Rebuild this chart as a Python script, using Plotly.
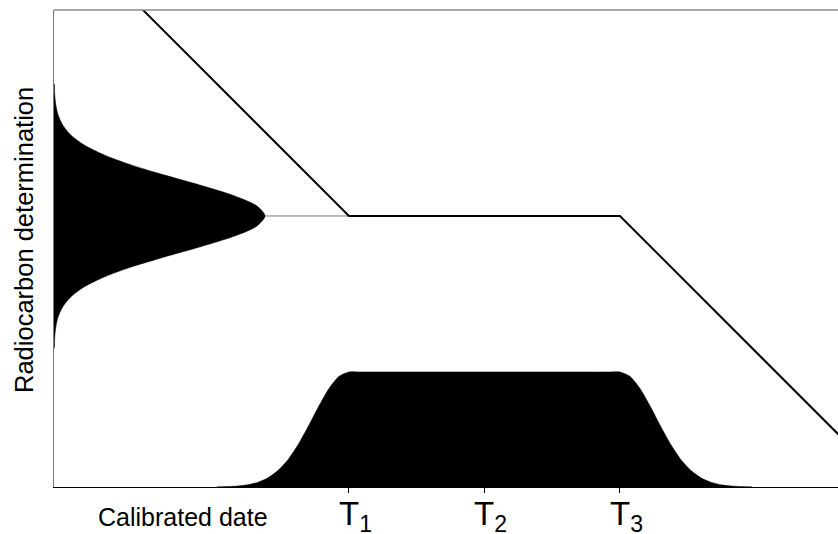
import plotly.graph_objects as go

# ---- data (arbitrary units, T1=1, T2=2, T3=3) ----
# radiocarbon determination (normal distribution drawn on the y-axis)
rc_values = [1.025, 1.1, 1.175, 1.25, 1.325, 1.4, 1.475, 1.55, 1.625, 1.7, 1.775, 1.85, 1.925,
             2.0, 2.075, 2.15, 2.225, 2.3, 2.375, 2.45, 2.525, 2.6, 2.675, 2.75, 2.825, 2.9, 2.975]
rc_density = [0.002, 0.005, 0.013, 0.029, 0.062, 0.122, 0.221, 0.371, 0.575, 0.823, 1.088, 1.328, 1.496,
              1.557, 1.496, 1.328, 1.088, 0.823, 0.575, 0.371, 0.221, 0.122, 0.062, 0.029, 0.013, 0.005, 0.002]

# calibrated date distribution (drawn on the x-axis)
cal_dates = [0.025, 0.1, 0.175, 0.25, 0.325, 0.4, 0.475, 0.55, 0.625, 0.7, 0.775, 0.85, 0.925,
             1.0, 1.075, 1.15, 1.5, 2.0, 2.5, 2.85, 2.925, 3.0,
             3.075, 3.15, 3.225, 3.3, 3.375, 3.45, 3.525, 3.6, 3.675, 3.75, 3.825, 3.9, 3.975]
cal_density = [0.001, 0.003, 0.007, 0.016, 0.034, 0.066, 0.121, 0.202, 0.314, 0.449, 0.593, 0.724, 0.816,
               0.849, 0.849, 0.849, 0.849, 0.849, 0.849, 0.849, 0.849, 0.849,
               0.816, 0.724, 0.593, 0.449, 0.314, 0.202, 0.121, 0.066, 0.034, 0.016, 0.007, 0.003, 0.001]

# calibration curve (with a plateau between T1 and T3)
curve_dates = [-1.5, 1.0, 3.0, 5.5]
curve_rc = [4.5, 2.0, 2.0, -0.5]

# ticks
tick_positions = [1, 2, 3]
tick_labels = ["T<sub>1</sub>", "T<sub>2</sub>", "T<sub>3</sub>"]

x_title = "Calibrated date"
y_title = "Radiocarbon determination"

X_MIN, X_MAX = -1.177, 4.609
Y_MIN, Y_MAX = 0.0, 3.52
RC_MEAN = rc_values[rc_density.index(max(rc_density))]

FONT = "Liberation Sans, Arial, sans-serif"

fig = go.Figure()

# calibrated distribution
fig.add_trace(go.Scatter(
    x=cal_dates, y=cal_density, mode="lines", fill="tozeroy",
    fillcolor="black", line=dict(color="black", width=0.5, shape="spline", smoothing=0.6),
    hoverinfo="skip", showlegend=False))

# connector from radiocarbon mean to calibration curve
fig.add_trace(go.Scatter(
    x=[X_MIN, curve_dates[1]], y=[RC_MEAN, RC_MEAN], mode="lines",
    line=dict(color="#777777", width=1), hoverinfo="skip", showlegend=False))

# radiocarbon distribution on the y axis
gx = [X_MIN] + [X_MIN + d for d in rc_density] + [X_MIN]
gy = [rc_values[0]] + rc_values + [rc_values[-1]]
fig.add_trace(go.Scatter(
    x=gx, y=gy, mode="lines", fill="toself", fillcolor="black",
    line=dict(color="black", width=0.5, shape="spline", smoothing=0.8),
    hoverinfo="skip", showlegend=False))

# calibration curve
fig.add_trace(go.Scatter(
    x=curve_dates, y=curve_rc, mode="lines",
    line=dict(color="black", width=2), hoverinfo="skip", showlegend=False))

fig.update_xaxes(range=[X_MIN, X_MAX], showgrid=False, zeroline=False,
                 showline=True, linecolor="black", linewidth=1,
                 ticks="outside", ticklen=5, tickwidth=1, tickcolor="black",
                 tickvals=tick_positions, showticklabels=False)
fig.update_yaxes(range=[Y_MIN, Y_MAX], showgrid=False, zeroline=False,
                 showline=True, linecolor="#777777", linewidth=1,
                 ticks="", showticklabels=False)

# top frame line
fig.add_shape(type="line", xref="paper", yref="paper", x0=0, x1=1, y0=1, y1=1,
              line=dict(color="#888888", width=1.5))

annotations = []
for tv, tl in zip(tick_positions, tick_labels):
    annotations.append(dict(x=tv, xref="x", y=0, yref="paper", text=tl, showarrow=False,
                            xanchor="left", yanchor="top", xshift=-12, yshift=-6,
                            font=dict(family=FONT, size=33, color="black")))
annotations.append(dict(x=(183 - 54) / 784, xref="paper", y=0, yref="paper", text=x_title,
                        showarrow=False, xanchor="center", yanchor="middle", yshift=-30,
                        font=dict(family=FONT, size=25, color="black")))
annotations.append(dict(x=0, xref="paper", y=(487 - 240) / 477, yref="paper", text=y_title,
                        showarrow=False, xanchor="center", yanchor="middle", xshift=-30,
                        textangle=-90, font=dict(family=FONT, size=25.5, color="black")))

fig.update_layout(width=838, height=534, margin=dict(l=54, r=0, t=10, b=47),
                  plot_bgcolor="white", paper_bgcolor="white",
                  annotations=annotations, font=dict(family=FONT))

fig.write_html("out.html", config={"displayModeBar": False},
               post_script="document.body.style.margin='0';document.body.style.overflow='hidden';")
